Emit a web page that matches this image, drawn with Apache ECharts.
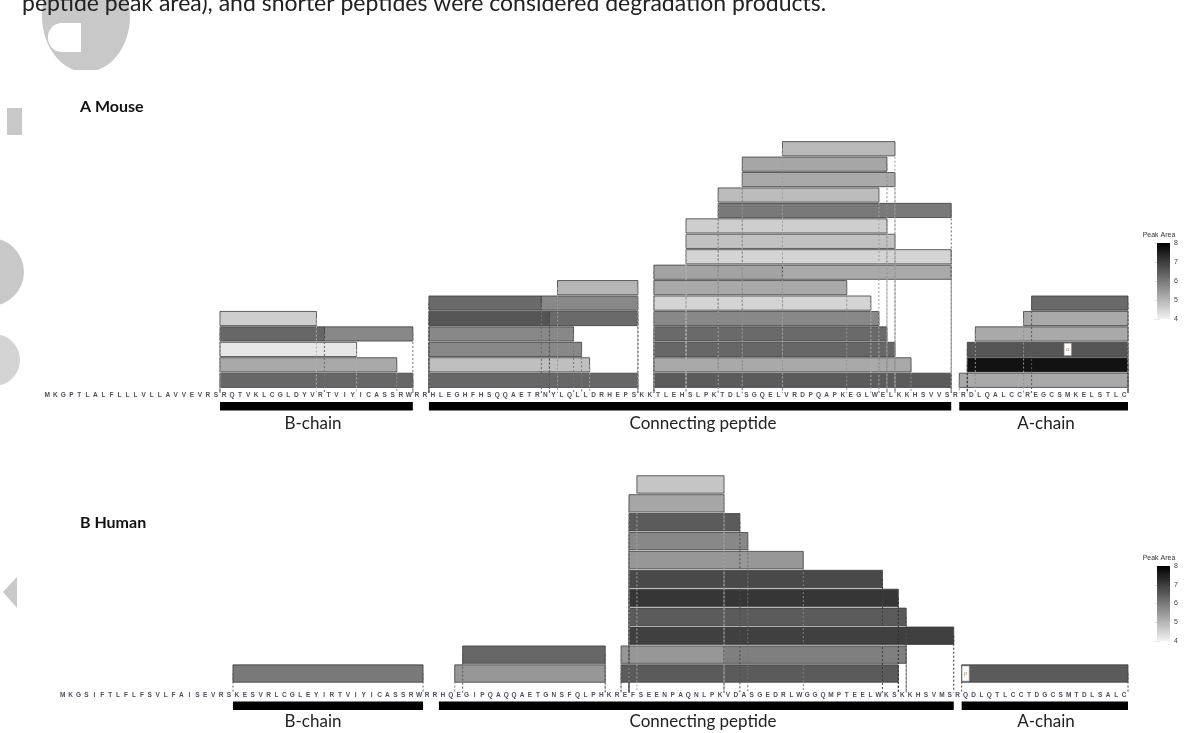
<!DOCTYPE html>
<html>
<head>
<meta charset="utf-8">
<script src="https://cdn.jsdelivr.net/npm/echarts@6/dist/echarts.min.js"></script>
<style>
html, body { margin: 0; background: #fff; }
#chart { width: 1198px; height: 733px; }
</style>
</head>
<body>
<div id="chart"></div>
<script>
// Preproinsulin-like sequences (one letter per residue, 1-based positions)
const mouseSeq = 'MKGPTLALFLLLVLLAVVEVRS' + 'RQTVKLCGLDYVRTVIYICASSRW' + 'RR' +
    'HLEGHFHSQQAETRNYLQLLDRHEPSKKTLEHSLPKTDLSGQELVRDPQAPKEGLWELKKHSVVS' + 'RR' +
    'DLQALCCREGCSMKELSTLC';
const humanSeq = 'MKGSIFTLFLFSVLFAISEVRS' + 'KESVRLCGLEYIRTVIYICASSRW' + 'RR' +
    'HQEGIPQAQQAETGNSFQLPHKREFSEENPAQNLPKVDASGEDRLWGGQMPTEELWKSKKHSVMS' + 'R' +
    'QDLQTLCCTDGCSMTDLSALC';

// peptides: [start residue, end residue, row, peak area (log)]
const mousePeptides = [
    [23, 46, 0, 6.3], [49, 74, 0, 6.3], [77, 113, 0, 6.5], [115, 135, 0, 5.2],
    [23, 44, 1, 5.2], [49, 68, 1, 4.85], [77, 108, 1, 5.2], [116, 135, 1, 7.7],
    [23, 39, 2, 4.2], [49, 67, 2, 5.75], [77, 106, 2, 6.3], [116, 135, 2, 6.6],
    [23, 35, 3, 6.3], [36, 46, 3, 5.75], [49, 66, 3, 5.75], [77, 105, 3, 6.25], [117, 135, 3, 5.2],
    [23, 34, 4, 4.6], [49, 63, 4, 6.6], [64, 74, 4, 6.25], [77, 104, 4, 5.75], [123, 135, 4, 5.2],
    [49, 62, 5, 6.25], [63, 74, 5, 5.75], [77, 103, 5, 4.5], [124, 135, 5, 6.25],
    [65, 74, 6, 5.0], [77, 100, 6, 5.2],
    [77, 92, 7, 5.3], [93, 113, 7, 5.2],
    [81, 113, 8, 4.5],
    [81, 106, 9, 4.8],
    [81, 105, 10, 4.6],
    [85, 113, 11, 6.0],
    [85, 104, 12, 4.9],
    [88, 106, 13, 5.2],
    [88, 105, 14, 5.25],
    [93, 106, 15, 4.95]
];
const humanPeptides = [
    [23, 46, 0, 6.0], [51, 69, 0, 5.5], [72, 106, 0, 6.5], [115, 135, 0, 6.5],
    [52, 69, 1, 6.3], [72, 84, 1, 5.5], [85, 107, 1, 5.9],
    [73, 113, 2, 6.95],
    [73, 107, 3, 6.5],
    [73, 106, 4, 7.1],
    [73, 104, 5, 6.8],
    [73, 94, 6, 5.5],
    [73, 87, 7, 5.75],
    [73, 86, 8, 6.5],
    [73, 84, 9, 5.25],
    [74, 84, 10, 4.75]
];

// modified residues: [residue, row, mark]
const mouseMods = [[128, 2, 'o']];
const humanMods = [[115, 0, 'p']];

// chains: [start residue, end residue]
const mouseChains = [[23, 46], [49, 113], [115, 135]];
const humanChains = [[23, 46], [49, 113], [115, 135]];
const chainNames = ['B-chain', 'Connecting peptide', 'A-chain'];

const peakRange = [4, 8];
const peakTicks = [4, 5, 6, 7, 8];

function grayOf(c) {
    c = String(c);
    if (c[0] === '#') return parseInt(c.slice(1, 3), 16);
    const m = c.match(/[\d.]+/g);
    return m ? +m[0] : 100;
}

function barRender(params, api) {
    const s = api.value(0), e = api.value(1), r = api.value(2);
    const bw = api.size([1, 0])[0];
    const rh = api.size([0, 1])[1];
    const p1 = api.coord([s - 1, r]);
    const p2 = api.coord([e - 1, r]);
    return {
        type: 'rect',
        shape: { x: p1[0] - bw / 2, y: p1[1] - rh * 0.46, width: p2[0] - p1[0] + bw, height: rh * 0.92 },
        style: { fill: api.visual('color'), stroke: '#3c3c3c', lineWidth: 0.8 }
    };
}

function makeLineRender(gap) {
    return function(params, api) {
        const s = api.value(0), e = api.value(1), r = api.value(2);
        const bw = api.size([1, 0])[0];
        const p1 = api.coord([s - 1, r]);
        const p2 = api.coord([e - 1, r]);
        const baseY = api.coord([0, -0.5])[1] + gap;
        const g = Math.round(Math.min(grayOf(api.visual('color')) * 0.85, 175));
        const stroke = 'rgb(' + g + ',' + g + ',' + g + ')';
        const style = { stroke: stroke, lineWidth: 1, lineDash: [2, 2] };
        return {
            type: 'group',
            children: [
                { type: 'line', shape: { x1: p1[0] - bw / 2, y1: p1[1], x2: p1[0] - bw / 2, y2: baseY }, style: style },
                { type: 'line', shape: { x1: p2[0] + bw / 2, y1: p2[1], x2: p2[0] + bw / 2, y2: baseY }, style: style }
            ]
        };
    };
}

function modRender(params, api) {
    const p = api.coord([api.value(0) - 1, api.value(1)]);
    const bw = api.size([1, 0])[0];
    const rh = api.size([0, 1])[1];
    return {
        type: 'group',
        children: [
            { type: 'rect', shape: { x: p[0] - bw * 0.45, y: p[1] - rh * 0.4, width: bw * 0.9, height: rh * 0.8 },
              style: { fill: '#fff', stroke: '#999', lineWidth: 0.6 } },
            { type: 'text', style: { x: p[0], y: p[1], text: api.value(2), fontSize: 6, fill: '#c08040',
              align: 'center', verticalAlign: 'middle', fontFamily: 'Liberation Sans' } }
        ]
    };
}

function makeChainRender(gap) {
    return function(params, api) {
        const bw = api.size([1, 0])[0];
        const p1 = api.coord([api.value(0) - 1, 0]);
        const p2 = api.coord([api.value(1) - 1, 0]);
        const baseY = api.coord([0, -0.5])[1] + gap + 10;
        return {
            type: 'rect',
            shape: { x: p1[0] - bw / 2, y: baseY, width: p2[0] - p1[0] + bw, height: 8.5 },
            style: { fill: '#000' }
        };
    };
}

function legendRender(params, api) {
    const a = api.coord([0, api.value(2)]);
    const b = api.coord([1, api.value(1)]);
    return {
        type: 'rect',
        shape: { x: a[0], y: a[1], width: b[0] - a[0], height: b[1] - a[1] },
        style: {
            fill: new echarts.graphic.LinearGradient(0, 0, 0, 1, [
                { offset: 0, color: '#000000' },
                { offset: 1, color: '#f2f2f2' }
            ])
        }
    };
}

function seqAxis(seq, grid, margin) {
    return {
        type: 'category',
        gridIndex: grid,
        data: seq.split(''),
        boundaryGap: true,
        axisLine: { show: false },
        axisTick: { show: false },
        axisLabel: { interval: 0, margin: margin, fontSize: 6.5, fontWeight: 'bold',
                     fontFamily: 'Liberation Sans', color: '#4a4f5c' },
        splitLine: { show: false }
    };
}

function rowAxis(grid, n) {
    return { type: 'value', gridIndex: grid, min: -0.5, max: n - 0.5, show: false };
}

function legendAxes(grid, name) {
    return [
        { type: 'value', gridIndex: grid, min: peakRange[0], max: peakRange[1], interval: 1, position: 'right',
          name: name, nameLocation: 'end', nameGap: 4,
          nameTextStyle: { fontSize: 7, color: '#333', fontFamily: 'Liberation Sans', align: 'center', padding: [0, 0, 0, 4] },
          axisLine: { show: false },
          axisTick: { show: true, inside: true, length: 3, lineStyle: { color: '#e8e8e8' } },
          axisLabel: { fontSize: 7, color: '#444', margin: 4, fontFamily: 'Liberation Sans',
                       formatter: function(v) { return peakTicks.indexOf(v) >= 0 ? String(v) : ''; } },
          splitLine: { show: false } },
        { type: 'value', gridIndex: grid, min: peakRange[0], max: peakRange[1], interval: 1, position: 'left',
          axisLine: { show: false },
          axisTick: { show: true, inside: true, length: 3, lineStyle: { color: '#e8e8e8' } },
          axisLabel: { show: false }, splitLine: { show: false } }
    ];
}

const MOUSE_GAP = 4;
const HUMAN_GAP = 8.5;

const chart = echarts.init(document.getElementById('chart'));

const option = {
    backgroundColor: '#fff',
    animation: false,
    grid: [
        { left: 43.2, top: 141, width: 1084.8, height: 247, outerBoundsMode: 'none' },
        { left: 58.7, top: 475, width: 1069.3, height: 208, outerBoundsMode: 'none' },
        { left: 1157, top: 243, width: 13, height: 76, outerBoundsMode: 'none' },
        { left: 1157, top: 566, width: 13, height: 75, outerBoundsMode: 'none' }
    ],
    xAxis: [
        seqAxis(mouseSeq, 0, MOUSE_GAP),
        seqAxis(humanSeq, 1, HUMAN_GAP),
        { type: 'value', gridIndex: 2, min: 0, max: 1, show: false },
        { type: 'value', gridIndex: 3, min: 0, max: 1, show: false }
    ],
    yAxis: [rowAxis(0, 16), rowAxis(1, 11)]
        .concat(legendAxes(2, 'Peak Area'))
        .concat(legendAxes(3, 'Peak Area')),
    visualMap: [{
        show: false,
        type: 'continuous',
        min: peakRange[0],
        max: peakRange[1],
        dimension: 3,
        seriesIndex: [0, 1, 4, 5],
        inRange: { color: ['#f2f2f2', '#000000'] }
    }],
    series: [
        { type: 'custom', xAxisIndex: 0, yAxisIndex: 0, z: 2, renderItem: barRender,
          data: mousePeptides, encode: { x: [0, 1], y: 2 } },
        { type: 'custom', xAxisIndex: 0, yAxisIndex: 0, z: 3, renderItem: makeLineRender(MOUSE_GAP + 1),
          data: mousePeptides, encode: { x: [0, 1], y: 2 } },
        { type: 'custom', xAxisIndex: 0, yAxisIndex: 0, z: 4, renderItem: modRender,
          data: mouseMods, encode: { x: 0, y: 1 } },
        { type: 'custom', xAxisIndex: 0, yAxisIndex: 0, z: 2, renderItem: makeChainRender(MOUSE_GAP),
          data: mouseChains, encode: { x: [0, 1] } },
        { type: 'custom', xAxisIndex: 1, yAxisIndex: 1, z: 2, renderItem: barRender,
          data: humanPeptides, encode: { x: [0, 1], y: 2 } },
        { type: 'custom', xAxisIndex: 1, yAxisIndex: 1, z: 3, renderItem: makeLineRender(HUMAN_GAP + 1),
          data: humanPeptides, encode: { x: [0, 1], y: 2 } },
        { type: 'custom', xAxisIndex: 1, yAxisIndex: 1, z: 4, renderItem: modRender,
          data: humanMods, encode: { x: 0, y: 1 } },
        { type: 'custom', xAxisIndex: 1, yAxisIndex: 1, z: 2, renderItem: makeChainRender(HUMAN_GAP),
          data: humanChains, encode: { x: [0, 1] } },
        { type: 'custom', xAxisIndex: 2, yAxisIndex: 2, renderItem: legendRender,
          data: [[0, peakRange[0], peakRange[1]]], encode: { x: 0, y: [1, 2] } },
        { type: 'custom', xAxisIndex: 3, yAxisIndex: 4, renderItem: legendRender,
          data: [[0, peakRange[0], peakRange[1]]], encode: { x: 0, y: [1, 2] } }
    ],
    graphic: [
        // faint journal watermark pieces at the left edge
        { type: 'ellipse', shape: { cx: 86, cy: 16, rx: 44, ry: 56 }, style: { fill: '#c8c8c8' }, z: 0 },
        { type: 'rect', shape: { x: 30, y: 70, width: 120, height: 24 }, style: { fill: '#fff' }, z: 0 },
        { type: 'rect', shape: { x: 48, y: 23, width: 33, height: 29, r: [14, 0, 0, 14] }, style: { fill: '#fff' }, z: 0 },
        { type: 'rect', shape: { x: 7, y: 108, width: 15, height: 27 }, style: { fill: '#c8c8c8' }, z: 0 },
        { type: 'circle', shape: { cx: -10, cy: 272, r: 34 }, style: { fill: '#c8c8c8' }, z: 0 },
        { type: 'ellipse', shape: { cx: -6, cy: 360, rx: 26, ry: 26 }, style: { fill: '#d4d4d4' }, z: 0 },
        { type: 'polygon', shape: { points: [[3, 592], [17, 577], [17, 608]] }, style: { fill: '#c8c8c8' }, z: 0 },
        // cut-off body text line at the top
        { type: 'text', left: 22, top: -8, z: 5,
          style: { text: 'peptide peak area), and shorter peptides were considered degradation products.',
                   fontSize: 23, fontFamily: 'Lato', fill: '#222' } },
        // panel titles
        { type: 'text', left: 80, top: 99, style: { text: 'A Mouse', font: 'bold 16px Lato', fill: '#111' } },
        { type: 'text', left: 80, top: 515, style: { text: 'B Human', font: 'bold 16px Lato', fill: '#111' } },
        // chain labels
        { type: 'text', x: 313, y: 424, style: { text: chainNames[0], fontSize: 17, fontFamily: 'Lato', fill: '#222', align: 'center', verticalAlign: 'middle' } },
        { type: 'text', x: 703, y: 424, style: { text: chainNames[1], fontSize: 17, fontFamily: 'Lato', fill: '#222', align: 'center', verticalAlign: 'middle' } },
        { type: 'text', x: 1046, y: 424, style: { text: chainNames[2], fontSize: 17, fontFamily: 'Lato', fill: '#222', align: 'center', verticalAlign: 'middle' } },
        { type: 'text', x: 313, y: 722, style: { text: chainNames[0], fontSize: 17, fontFamily: 'Lato', fill: '#222', align: 'center', verticalAlign: 'middle' } },
        { type: 'text', x: 703, y: 722, style: { text: chainNames[1], fontSize: 17, fontFamily: 'Lato', fill: '#222', align: 'center', verticalAlign: 'middle' } },
        { type: 'text', x: 1046, y: 722, style: { text: chainNames[2], fontSize: 17, fontFamily: 'Lato', fill: '#222', align: 'center', verticalAlign: 'middle' } }
    ]
};

chart.setOption(option);

window.addEventListener('resize', function() {
    chart.resize();
});
</script>
</body>
</html>
